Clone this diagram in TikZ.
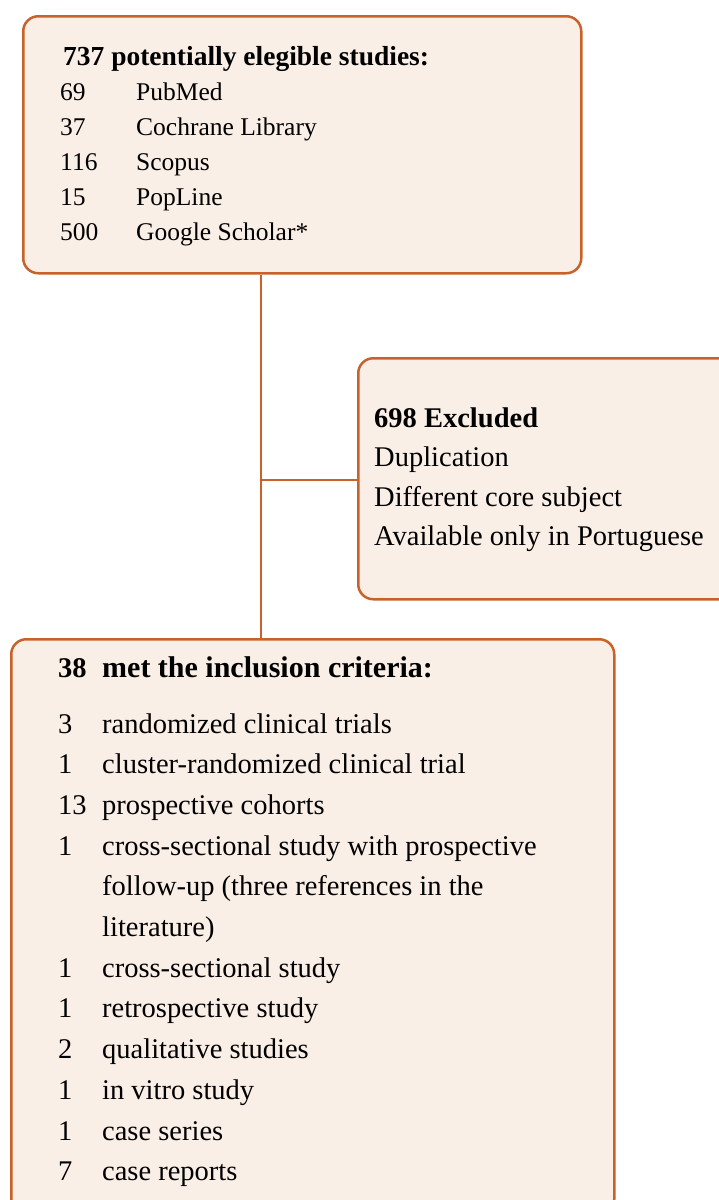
\documentclass[tikz,border=0pt]{standalone}
\usepackage{fontspec}
\setmainfont{Liberation Serif}
\usepackage{array}
\usepackage{tikz}

\definecolor{boxline}{RGB}{200,98,42}
\definecolor{boxfill}{RGB}{250,239,231}

\begin{document}
\begin{tikzpicture}[x=1pt, y=1pt,
    box/.style={draw=boxline, fill=boxfill, line width=2.5pt, rounded corners=15pt, anchor=north west, inner sep=0pt},
    link/.style={draw=boxline, line width=2.3pt},
    txt/.style={anchor=base west, inner sep=0pt}]
    \useasboundingbox (0,0) rectangle (718,-1200);

    % boxes
    \node[box, minimum width=558pt, minimum height=257pt] (search) at (22,-15) {};
    \node[box, minimum width=380pt, minimum height=241pt] (excluded) at (357,-357) {};
    \node[box, minimum width=603pt, minimum height=575pt] (included) at (10,-638) {};

    % connectors
    \coordinate (split) at (261,-480);
    \draw[link] (search.south -| split) -- (included.north -| split);
    \draw[link] (split) -- (excluded.west |- split);

    % texts
    \node[txt] (searchtext) at (60,-65) {\fontsize{25.5}{35}\selectfont
        \begin{tabular}[t]{@{}p{76pt}@{}l@{}}
            \multicolumn{2}{@{}l@{}}{\hspace{3pt}\fontsize{27.5}{35}\selectfont\textbf{737 potentially elegible studies:}}\\
            69  & PubMed\\
            37  & Cochrane Library\\
            116 & Scopus\\
            15  & PopLine\\
            500 & Google Scholar*
        \end{tabular}};

    \node[txt] (excludedtext) at (374,-427) {\fontsize{28.5}{39.5}\selectfont
        \begin{tabular}[t]{@{}l@{}}
            \textbf{698 Excluded}\\
            Duplication\\
            Different core subject\\
            Available only in Portuguese
        \end{tabular}};

    \node[txt] (includedtext) at (58,-677) {\fontsize{28.5}{40.7}\selectfont
        \begin{tabular}[t]{@{}p{44pt}@{}l@{}}
            \textbf{38} & \fontsize{30}{40.7}\selectfont\textbf{met the inclusion criteria:}\\[15.3pt]
            3  & randomized clinical trials\\
            1  & cluster-randomized clinical trial\\
            13 & prospective cohorts\\
            1  & cross-sectional study with prospective\\
               & follow-up (three references in the\\
               & literature)\\
            1  & cross-sectional study\\
            1  & retrospective study\\
            2  & qualitative studies\\
            1  & in vitro study\\
            1  & case series\\
            7  & case reports
        \end{tabular}};
\end{tikzpicture}
\end{document}
